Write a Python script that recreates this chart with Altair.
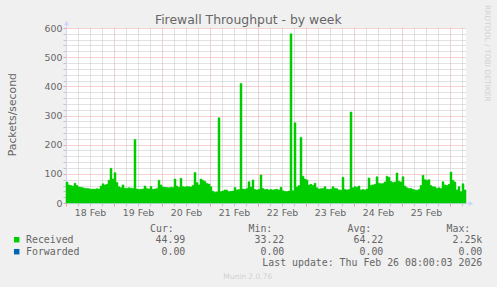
import json
import altair as alt
import pandas as pd

TITLE = "Firewall Throughput - by week"
Y_TITLE = "Packets/second"
DAY_LABELS = ["18 Feb", "19 Feb", "20 Feb", "21 Feb", "22 Feb", "23 Feb", "24 Feb", "25 Feb"]

# hourly values, starting 18 Feb 00:00
RECEIVED = [
    72, 62, 60, 58, 68, 60, 55, 54, 52, 50,
    50, 49, 47, 48, 47, 49, 48, 58, 66, 62,
    64, 78, 119, 82, 104, 70, 56, 52, 62, 51,
    50, 52, 51, 50, 218, 48, 46, 47, 48, 58,
    50, 48, 57, 47, 48, 50, 78, 62, 55, 54,
    53, 52, 54, 53, 82, 58, 54, 85, 56, 55,
    57, 56, 55, 60, 105, 70, 62, 82, 78, 74,
    67, 65, 56, 40, 37, 38, 292, 39, 41, 45,
    44, 39, 40, 41, 53, 45, 46, 410, 48, 47,
    50, 73, 55, 79, 46, 45, 47, 96, 50, 46,
    47, 45, 46, 45, 46, 47, 45, 54, 42, 40,
    39, 41, 580, 42, 275, 55, 60, 225, 92, 82,
    79, 62, 64, 60, 68, 52, 48, 49, 50, 56,
    47, 46, 48, 56, 50, 49, 45, 44, 88, 46,
    45, 46, 312, 52, 56, 54, 58, 45, 46, 45,
    48, 86, 60, 62, 64, 90, 68, 66, 67, 72,
    92, 88, 74, 70, 72, 103, 75, 72, 90, 58,
    52, 50, 50, 46, 45, 44, 46, 60, 95, 80,
    78, 80, 60, 56, 55, 50, 52, 50, 73, 62,
    60, 64, 106, 78, 72, 45, 56, 39, 66, 45,
]

SERIES = ["Received", "Forwarded"]
SERIES_COLORS = ["#00CC00", "#0066B3"]
HEADERS = ["Cur:", "Min:", "Avg:", "Max:"]
CUR = ["44.99", "0.00"]
MIN = ["33.22", "0.00"]
AVG = ["64.22", "0.00"]
MAX = ["2.25k", "0.00"]
LAST_UPDATE = "Last update: Thu Feb 26 08:00:03 2026"
SIDE_TEXT = "RRDTOOL / TOBI OETIKER"
FOOTER = "Munin 2.0.76"

# layout
OX, OY = 66, 28
W, H = 400, 175
TOTAL_W, TOTAL_H = 497, 287
X_MAX = 200
Y_MAX = 600

FONT = "DejaVu Sans"
MONO = "DejaVu Sans Mono"
TXT = "#666666"
AXIS_COLOR = "#CFD6F8"
GRID = "#C4C4C4"
MGRID = "#EBA2A2"

df = pd.DataFrame({"h": list(range(len(RECEIVED))), "v": RECEIVED})

day_expr = (
    f"datum.value % 24 === 12 ? {json.dumps(DAY_LABELS)}[floor(datum.value / 24)] : ''"
)

x_axis = alt.Axis(
    values=list(range(0, X_MAX + 1, 6)),
    labelExpr=day_expr,
    grid=True,
    gridColor={"condition": {"test": "datum.value % 24 === 0", "value": MGRID}, "value": GRID},
    gridDash=[1, 1],
    tickColor={"condition": {"test": "datum.value % 24 === 0", "value": MGRID}, "value": GRID},
    tickSize=3,
    domainColor=AXIS_COLOR,
    labelFont=FONT,
    labelFontSize=9.4,
    labelColor=TXT,
    labelPadding=2,
    labelFlush=False,
    labelOverlap=False,
    labelBound=False,
    title=None,
    zindex=0,
)

y_axis = alt.Axis(
    values=list(range(0, Y_MAX + 1, 20)),
    labelExpr="datum.value % 100 === 0 ? datum.label : ''",
    grid=True,
    gridColor={"condition": {"test": "datum.value % 100 === 0", "value": MGRID}, "value": GRID},
    gridDash=[1, 1],
    tickColor={"condition": {"test": "datum.value % 100 === 0", "value": MGRID}, "value": GRID},
    tickSize=3,
    domainColor=AXIS_COLOR,
    labelFont=FONT,
    labelFontSize=9.4,
    labelColor=TXT,
    labelPadding=1,
    labelFlush=False,
    labelOverlap=False,
    labelBound=False,
    title=Y_TITLE,
    titleFont=FONT,
    titleFontSize=10.8,
    titleFontWeight="normal",
    titleColor=TXT,
    titleAngle=270,
    titleAlign="center",
    titleBaseline="alphabetic",
    titleX=15 - OX,
    titleY=114.2 - OY,
    zindex=0,
)

area = (
    alt.Chart(df)
    .transform_calculate(h2="datum.h + 1")
    .mark_rect(color=SERIES_COLORS[0], stroke=SERIES_COLORS[0], strokeWidth=0.5)
    .encode(
        x=alt.X("h:Q", scale=alt.Scale(domain=[0, X_MAX], nice=False, zero=False), axis=x_axis),
        x2="h2:Q",
        y=alt.Y("v:Q", scale=alt.Scale(domain=[0, Y_MAX], nice=False, clamp=True), axis=y_axis),
        y2=alt.Y2Datum(0),
    )
)

one = pd.DataFrame({"k": [0]})

# axis extensions and arrows (decoration, pixel space)
y_ext = alt.Chart(one).mark_rule(color=AXIS_COLOR).encode(
    x=alt.value(0.5), y=alt.value(0), y2=alt.value(-4)
)
x_ext = alt.Chart(one).mark_rule(color=AXIS_COLOR).encode(
    x=alt.value(W), x2=alt.value(W + 3), y=alt.value(H + 0.5)
)
y_arrow = alt.Chart(one).mark_point(
    shape="triangle-up", filled=True, size=28, color=AXIS_COLOR, opacity=1
).encode(x=alt.value(0.5), y=alt.value(-5))
x_arrow = alt.Chart(one).mark_point(
    shape="triangle-right", filled=True, size=28, color=AXIS_COLOR, opacity=1
).encode(x=alt.value(W + 5), y=alt.value(H + 0.5))


def txt(s, x, y, size, color=TXT, font=MONO, align="left", angle=0, baseline="alphabetic"):
    return alt.Chart(one).mark_text(
        text=s, font=font, fontSize=size, color=color, align=align, baseline=baseline, angle=angle
    ).encode(x=alt.value(x - OX), y=alt.value(y - OY))


def fmt(s):
    return s if s[-1].isalpha() else s + "\u00a0"


layers = [area, y_ext, x_ext, y_arrow, x_arrow]

# title, side credit and footer
layers.append(txt(TITLE, 248.3, 23.6, 12.4, font=FONT, align="center"))
layers.append(txt(SIDE_TEXT, 485, 5, 7.5, color="#D2D2D2", font=FONT, angle=90))
layers.append(txt(FOOTER, 247.7, 278.5, 7.5, color="#D0D0D0", font=FONT, align="center"))

# legend header
header_x = [150, 248.5, 347.5, 446.5]
for hx, hd in zip(header_x, HEADERS):
    layers.append(txt(hd, hx, 231.5, 9.9))

col_right = [185.3, 284.3, 383.3, 482.3]
cols = [CUR, MIN, AVG, MAX]
row_base = [243.2, 255.2]
for i, name in enumerate(SERIES):
    layers.append(
        alt.Chart(one)
        .mark_square(size=30, color=SERIES_COLORS[i], opacity=1)
        .encode(x=alt.value(16.7 - OX), y=alt.value(row_base[i] - 3.5 - OY))
    )
    layers.append(txt(name, 26, row_base[i], 9.9))
    for cx, col in zip(col_right, cols):
        layers.append(txt(fmt(col[i]), cx, row_base[i], 9.9, align="right"))

layers.append(txt(LAST_UPDATE, 482.3, 266.2, 9.9, align="right"))

chart = (
    alt.layer(*layers)
    .properties(
        width=W,
        height=H,
        padding={"left": OX, "top": OY, "right": TOTAL_W - OX - W, "bottom": TOTAL_H - OY - H},
        autosize=alt.AutoSizeParams(type="none"),
        background="#F0F0F0",
    )
    .configure_view(fill="white", stroke=None)
)

chart.save("out.html", embed_options={"renderer": "svg", "actions": False})
